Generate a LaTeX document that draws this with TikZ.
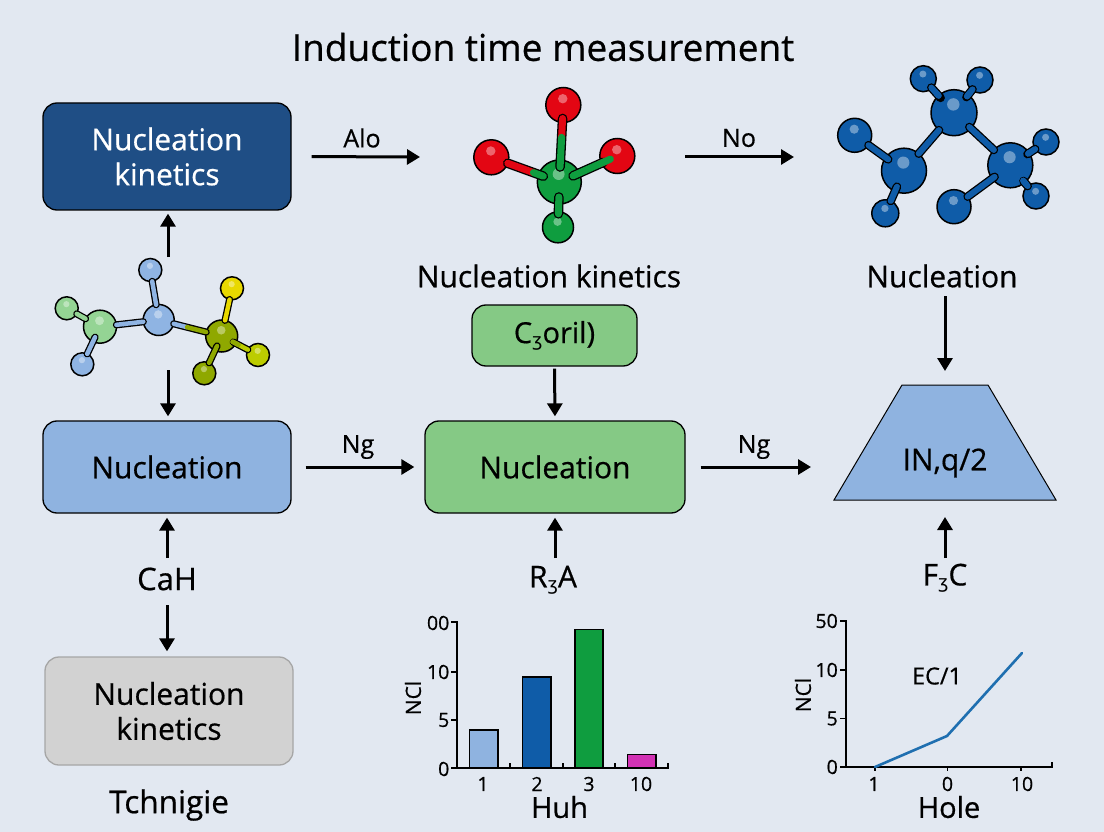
\documentclass[tikz,border=0pt]{standalone}
\usepackage{fontspec}
\setmainfont{Open Sans}[RawFeature={embolden=0.6}]
\newfontfamily\ipafont{DejaVu Sans}
\usetikzlibrary{arrows.meta,calc,shapes.geometric}
\definecolor{bgc}{HTML}{E2E8F1}
\definecolor{darkbox}{HTML}{1F4E85}
\definecolor{bluebox}{HTML}{8FB3E0}
\definecolor{greenbox}{HTML}{85C985}
\definecolor{greybox}{HTML}{D2D2D2}
\definecolor{mred}{HTML}{E30613}
\definecolor{mgreen}{HTML}{0F9D3F}
\definecolor{mblue}{HTML}{0F5CA8}
\definecolor{lgreen}{HTML}{94D494}
\definecolor{lblue}{HTML}{8FB4E3}
\definecolor{olive}{HTML}{8FA800}
\definecolor{myellow}{HTML}{E8D800}
\definecolor{lime}{HTML}{BCCC00}
\definecolor{barpink}{HTML}{D232B4}
\definecolor{linecol}{HTML}{1F6FB0}
\newcommand{\zh}{{\ipafont\raisebox{-3pt}{\fontsize{18}{18}\selectfont ʒ}}}
\newcommand{\matom}[5]{%
  \node[atomshape,fill=#5,minimum size=2*#4] (#1) at (#2,#3) {};
  \fill[white,opacity=.38] ($(#1.center)+(-.03*#4,-.36*#4)$) circle ({.27*#4});
}
% width, a, b, colour a, colour b, fraction, shorten at a, shorten at b
\newcommand{\mbond}[8]{%
  \coordinate (mid) at ($(#2)!#6!(#3)$);
  \draw[line cap=round,line width=#1+2.6,black,shorten <=#7,shorten >=#8] (#2) -- (#3);
  \draw[line cap=round,line width=#1,#4,shorten <=#7] (#2) -- (mid);
  \draw[line cap=round,line width=#1,#5,shorten >=#8] (mid) -- (#3);
}
\tikzset{
  arr/.style={line width=3,-{Triangle[length=13,width=15]}},
  boxn/.style={draw=black,line width=1.3,rounded corners=14,align=center,inner sep=0,font=\fontsize{30}{35}\selectfont},
  lab/.style={inner sep=0,font=\fontsize{30}{35}\selectfont},
  elab/.style={inner sep=0,font=\fontsize{25}{30}\selectfont},
  tick/.style={inner sep=0,font=\fontsize{19.5}{23}\selectfont},
  axl/.style={inner sep=0,font=\fontsize{29}{34}\selectfont},
  ax/.style={line width=1.7,black},
  barb/.style={draw=black,line width=1.3},
  atomshape/.style={circle,draw=black,line width=1.5,inner sep=0,outer sep=0}
}
\begin{document}
\begin{tikzpicture}[x=1pt,y=-1pt]
\useasboundingbox (0,0) rectangle (1104,832);
\fill[bgc] (0,0) rectangle (1104,832);
\node[inner sep=0,font=\fontsize{37}{44}\selectfont] (title) at (543,47) {Induction time measurement};
% boxes
\node[boxn,fill=darkbox,text=white,minimum width=248,minimum height=107] (kin1) at (167,156.5) {\raisebox{-1pt}{Nucleation}\\\raisebox{-1pt}{kinetics}};
\node[boxn,fill=bluebox,minimum width=248,minimum height=92] (nuc1) at (167,467) {\raisebox{-2pt}{Nucleation}};
\node[boxn,fill=greybox,draw=gray!70,minimum width=248,minimum height=108] (kin2) at (169,711) {\raisebox{-1pt}{Nucleation}\\\raisebox{-1pt}{kinetics}};
\node[boxn,fill=greenbox,minimum width=165,minimum height=61,font=\fontsize{29}{34}\selectfont] (cbox) at (554.5,335.5) {C\zh oril)};
\node[boxn,fill=greenbox,minimum width=260,minimum height=92] (nuc2) at (555,467) {\raisebox{-2pt}{Nucleation}};
\draw[draw=black,line width=1,fill=bluebox] (902,385) -- (988,385) -- (1056,500) -- (834,500) -- cycle;
\node[inner sep=0,font=\fontsize{30}{35}\selectfont] (trap) at (945,463) {IN,q/2};
% labels
\node[lab] (nk) at (549,276) {Nucleation kinetics};
\node[lab] (nn) at (942,276) {Nucleation};
\node[lab,font=\fontsize{31.5}{36}\selectfont] (tch) at (169,805) {Tchnigie};
\node[lab,font=\fontsize{31}{36}\selectfont] (cah) at (167,579) {CaH};
\node[lab] (rza) at (553,580) {R\zh A};
\node[lab] (fzc) at (945,578) {F\zh C};
\node[elab] (alo) at (362,138) {Alo};
\node[elab] (no) at (739,138) {No};
\node[elab] (ng1) at (358,447) {Ng};
\node[elab] (ng2) at (754,447) {Ng};
% molecule 1
\matom{a1}{66.7}{308.3}{11.5}{lgreen}
\matom{a2}{100}{326.7}{16.5}{lgreen}
\matom{a3}{82.3}{364.3}{11.5}{lblue}
\matom{a4}{150.3}{270}{11.5}{lblue}
\matom{a5}{158.7}{320}{15.5}{lblue}
\matom{a6}{221.7}{336}{16}{olive}
\matom{a7}{232}{288.3}{11.5}{myellow}
\matom{a8}{258}{355}{11.5}{lime}
\matom{a9}{204.3}{373.3}{11.5}{olive}
\mbond{4.5}{a1}{a2}{lgreen}{lgreen}{.5}{0}{0}
\mbond{4.5}{a3}{a2}{lblue}{lblue}{.6}{0}{-5}
\mbond{4.5}{a2}{a5}{lblue}{lblue}{.4}{0}{0}
\mbond{4.5}{a4}{a5}{lblue}{lblue}{.5}{0}{0}
\mbond{4.5}{a5}{a6}{lblue}{olive}{.45}{0}{0}
\mbond{4.5}{a7}{a6}{myellow}{myellow}{.6}{0}{0}
\mbond{4.5}{a8}{a6}{lime}{olive}{.7}{0}{-3}
\mbond{4.5}{a9}{a6}{olive}{olive}{.5}{0}{-5}
% molecule 2
\matom{b1}{563.3}{105}{17.5}{mred}
\matom{b2}{491.3}{157.3}{17.5}{mred}
\matom{b3}{617.3}{156}{17.5}{mred}
\matom{b4}{559.3}{182}{22}{mgreen}
\matom{b5}{558}{227.3}{15.5}{mgreen}
\mbond{7}{b1}{b4}{mred}{mgreen}{.42}{-4}{-7}
\mbond{7}{b2}{b4}{mred}{mgreen}{.62}{0}{-5}
\mbond{7}{b3}{b4}{mred}{mgreen}{.12}{-2}{-7}
\mbond{7}{b5}{b4}{mgreen}{mgreen}{.5}{-2}{-7}
% molecule 3
\matom{c1}{923.3}{78.7}{13}{mblue}
\matom{c2}{980}{80}{13}{mblue}
\matom{c3}{954}{112.7}{23}{mblue}
\matom{c4}{854.7}{135.3}{17}{mblue}
\matom{c5}{904}{170.7}{22.5}{mblue}
\matom{c6}{885.3}{213.3}{13.5}{mblue}
\matom{c7}{954}{206.7}{17}{mblue}
\matom{c8}{1010.3}{165.3}{22.5}{mblue}
\matom{c9}{1046}{142}{13}{mblue}
\matom{c10}{1036}{196}{13}{mblue}
\mbond{6}{c1}{c3}{mblue}{mblue}{.5}{-1}{-3}
\mbond{6}{c2}{c3}{mblue}{mblue}{.5}{-1}{-3}
\mbond{6}{c3}{c5}{mblue}{mblue}{.5}{0}{0}
\mbond{6}{c3}{c8}{mblue}{mblue}{.5}{-2}{0}
\mbond{6}{c4}{c5}{mblue}{mblue}{.5}{0}{-3}
\mbond{6}{c6}{c5}{mblue}{mblue}{.5}{0}{-5}
\mbond{6}{c7}{c8}{mblue}{mblue}{.5}{0}{-3}
\mbond{6}{c9}{c8}{mblue}{mblue}{.5}{0}{-2}
\mbond{6}{c10}{c8}{mblue}{mblue}{.5}{0}{-2}
% free ends
\coordinate (p1) at (168,257);
\coordinate (p2) at (168,370);
\coordinate (p3) at (420,157);
\coordinate (p4) at (685,157);
\coordinate (p5) at (794,157);
\coordinate (p6) at (811,467);
\coordinate (p7) at (945,296);
\coordinate (p8) at (945,371);
\coordinate (p9) at (945,558);
\coordinate (p10) at (945,517);
\coordinate (p11) at (167,558);
\coordinate (p12) at (167,605);
\coordinate (p13) at (555,558);
% connectors
\draw[arr,shorten >=3] (p1) -- (p1 |- kin1.south);
\draw[arr,shorten >=4] (p2) -- (p2 |- nuc1.north);
\draw[arr,shorten <=20] (kin1.east) -- (p3);
\draw[arr] (p4) -- (p5);
\draw[arr,shorten <=14,shorten >=10] (nuc1.east) -- (nuc2.west);
\draw[arr,shorten <=15] (nuc2.east) -- (p6);
\draw[arr,shorten <=2,shorten >=4] (cbox.south) -- (nuc2.north);
\draw[arr] (p7) -- (p8);
\draw[arr,shorten >=4] (p11) -- (nuc1.south);
\draw[arr,shorten >=5] (p12) -- (p12 |- kin2.north);
\draw[arr,shorten >=4] (p13) -- (p13 |- nuc2.south);
\draw[arr] (p9) -- (p10);
% bar chart
\coordinate (bo) at (456.7,768);
\draw[barb,fill=bluebox] (469.5,768) rectangle (498,730);
\draw[barb,fill=mblue] (522.7,768) rectangle (551,677);
\draw[barb,fill=mgreen] (575,768) rectangle (603,629.5);
\draw[barb,fill=barpink] (627.5,768) rectangle (656,754.5);
\draw[ax] (451,622) -- (456.7,622) -- (bo) -- (667.7,768) -- (667.7,763);
\foreach \yy in {671.7,720,768} \draw[ax] (451,\yy) -- (456.7,\yy);
\foreach \xx in {510,563,615} \draw[ax] (\xx,768) -- (\xx,763);
\node[tick,anchor=east] (y1) at (449.5,623) {00};
\node[tick,anchor=east] (y2) at (449.5,672) {10};
\node[tick,anchor=east] (y3) at (449.5,720) {5};
\node[tick,anchor=east] (y4) at (449.5,769) {0};
\node[tick] (x1) at (483,784) {1};
\node[tick] (x2) at (537,784) {2};
\node[tick] (x3) at (589,784) {3};
\node[tick] (x4) at (641,784) {10};
\node[inner sep=0,rotate=90,font=\fontsize{21}{25}\selectfont] (ncl1) at (413,698) {NCl};
\node[axl] (huh) at (559.5,807) {Huh};
% line chart
\draw[ax] (840,620.7) -- (846,620.7) -- (846,766.7) -- (1052.3,766.7) -- (1052.3,762);
\foreach \yy in {670,718.5,766.7} \draw[ax] (840,\yy) -- (846,\yy);
\foreach \xx in {875,947.5,1021} \draw[ax] (\xx,766.7) -- (\xx,771);
\draw[line width=2.6,linecol,line cap=round,line join=round] (875,767) -- (947,736) -- (1022,653);
\node[tick,anchor=east] (z1) at (838,621) {50};
\node[tick,anchor=east] (z2) at (838,670) {10};
\node[tick,anchor=east] (z3) at (838,718.5) {5};
\node[tick,anchor=east] (z4) at (838,767) {0};
\node[tick] (w1) at (874,784) {1};
\node[tick] (w2) at (947.5,784) {0};
\node[tick] (w3) at (1022,784) {10};
\node[inner sep=0,font=\fontsize{23.5}{28}\selectfont] (ec) at (937,676) {EC/1};
\node[inner sep=0,rotate=90,font=\fontsize{21}{25}\selectfont] (ncl2) at (803,695) {NCl};
\node[axl] (hole) at (949,807) {Hole};
\end{tikzpicture}
\end{document}
